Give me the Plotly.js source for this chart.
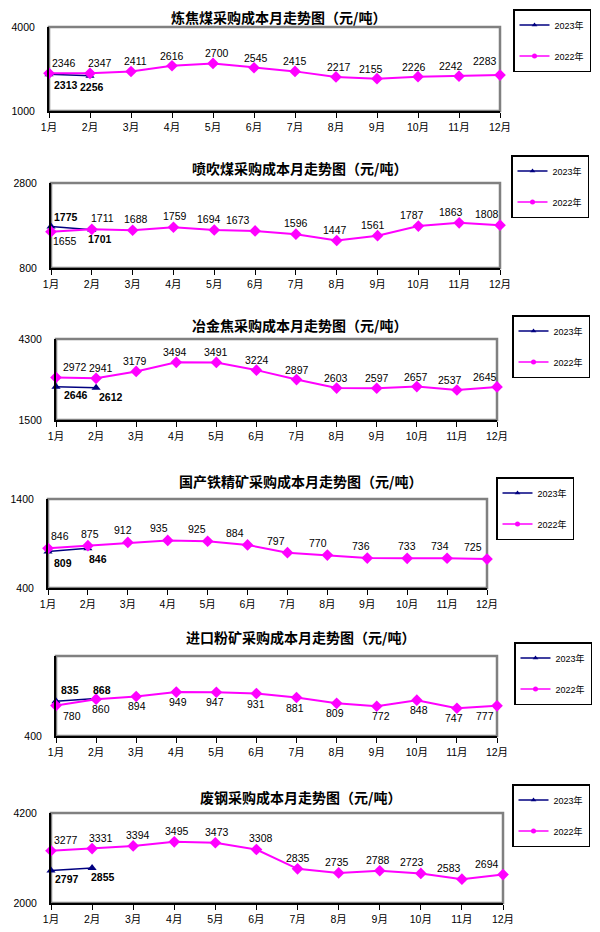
<!DOCTYPE html>
<html>
<head>
<meta charset="utf-8">
<script src="https://cdn.plot.ly/plotly-3.0.1.min.js"></script>
<style>html,body{margin:0;padding:0;background:#fff;}#chart{width:600px;height:932px;}</style>
</head>
<body>
<div id="chart"></div>
<script>
// ---- data ----
const months = ['1月','2月','3月','4月','5月','6月','7月','8月','9月','10月','11月','12月'];
const seriesNames = ['2023年','2022年'];

const titleCoking = '炼焦煤采购成本月走势图（元/吨）';
const coking2022 = [2346,2347,2411,2616,2700,2545,2415,2217,2155,2226,2242,2283];
const coking2023 = [2313,2256];
const cokingTicks = [1000,4000];

const titlePci = '喷吹煤采购成本月走势图（元/吨）';
const pci2022 = [1655,1711,1688,1759,1694,1673,1596,1447,1561,1787,1863,1808];
const pci2023 = [1775,1701];
const pciTicks = [800,2800];

const titleCoke = '冶金焦采购成本月走势图（元/吨）';
const coke2022 = [2972,2941,3179,3494,3491,3224,2897,2603,2597,2657,2537,2645];
const coke2023 = [2646,2612];
const cokeTicks = [1500,4300];

const titleDomOre = '国产铁精矿采购成本月走势图（元/吨）';
const domOre2022 = [846,875,912,935,925,884,797,770,736,733,734,725];
const domOre2023 = [809,846];
const domOreTicks = [400,1400];

const titleImpOre = '进口粉矿采购成本月走势图（元/吨）';
const impOre2022 = [780,860,894,949,947,931,881,809,772,848,747,777];
const impOre2023 = [835,868];
const impOreTicks = [400,1400];
const impOreTickLabels = ['400',''];

const titleScrap = '废钢采购成本月走势图（元/吨）';
const scrap2022 = [3277,3331,3394,3495,3473,3308,2835,2735,2788,2723,2583,2694];
const scrap2023 = [2797,2855];
const scrapTicks = [2000,4200];

// ---- styles / layout ----
const W = 600, H = 932;
const FONT = 'Liberation Sans, Noto Sans CJK SC, sans-serif';
const LBL = 10.5;
const C22 = '#FF00FF', C23 = '#000080';
function rep(v,n){return Array(n).fill(v);}

// label offsets (pixels) relative to each point: dx22/dy22 for 2022, dx23/dy23 for 2023
const panels = [
  {title:titleCoking, d22:coking2022, d23:coking2023, ticks:cokingTicks, tl:null,
   box:[49,500,27,111], tpos:[278,17], leg:[513,9],
   dx22:[15,10,4,0,4,2,0,3,-6,-4,-8,-15], dy22:rep(10,11).concat([14]),
   dx23:[17,2], dy23:[-11,-11]},
  {title:titlePci, d22:pci2022, d23:pci2023, ticks:pciTicks, tl:null,
   box:[51,500,183,268], tpos:[299,168], leg:[511,155],
   dx22:[14,11,3,2,-5,-17,0,-2,-5,-6,-8,-13], dy22:[-9].concat(rep(11,11)),
   dx23:[15,8], dy23:[10,-9]},
  {title:titleCoke, d22:coke2022, d23:coke2023, ticks:cokeTicks, tl:null,
   box:[56,497,339,420], tpos:[299,325], leg:[512,315],
   dx22:[19,5,-1,-1,0,1,0,-1,0,-1,-7,-12], dy22:rep(10,12),
   dx23:[20,15], dy23:[-8,-9]},
  {title:titleDomOre, d22:domOre2022, d23:domOre2023, ticks:domOreTicks, tl:null,
   box:[48,487,499,588], tpos:[300,481], leg:[496,477],
   dx22:[12,2,-5,-9,-11,-13,-11,-9,-6,0,-7,-14], dy22:rep(12,12),
   dx23:[15,10], dy23:[-11,-11]},
  {title:titleImpOre, d22:impOre2022, d23:impOre2023, ticks:impOreTicks, tl:impOreTickLabels,
   box:[56,497,656,736], tpos:[300,637], leg:[514,642],
   dx22:[16,5,1,2,-1,0,-2,-2,4,2,-3,-12], dy22:rep(-10,12),
   dx23:[14,6], dy23:[11,9]},
  {title:titleScrap, d22:scrap2022, d23:scrap2023, ticks:scrapTicks, tl:null,
   box:[51,503,813,903], tpos:[300,797], leg:[512,784],
   dx22:[15,9,5,3,2,5,0,-2,-2,-9,-13,-16], dy22:rep(11,12),
   dx23:[16,11], dy23:[-9,-9]}
];

const traces = [];
const layout = {
  width: W, height: H,
  margin: {l:0, r:0, t:0, b:0},
  paper_bgcolor: '#fff', plot_bgcolor: '#fff',
  font: {family: FONT, size: 10, color: '#000'},
  showlegend: true,
  annotations: [], shapes: []
};

panels.forEach((p, i) => {
  const n = i + 1;
  const sx = n === 1 ? '' : String(n);
  const xa = 'x' + sx, ya = 'y' + sx;
  const legName = 'legend' + sx;
  const x23 = months.slice(0, p.d23.length);
  // data traces
  traces.push({
    type:'scatter', mode:'lines+markers', name: seriesNames[0], showlegend: false,
    x: x23, y: p.d23,
    line: {color: C23, width: 1.5},
    marker: {symbol: 'triangle-up', size: 8, color: C23},
    xaxis: xa, yaxis: ya, cliponaxis: false, hoverinfo: 'skip'
  });
  traces.push({
    type:'scatter', mode:'lines+markers', name: seriesNames[1], showlegend: false,
    x: months, y: p.d22,
    line: {color: C22, width: 2},
    marker: {symbol: 'diamond', size: 9, color: C22},
    xaxis: xa, yaxis: ya, cliponaxis: false, hoverinfo: 'skip'
  });
  // legend-only entries (no data, smaller symbols like the reference key)
  traces.push({
    type:'scatter', mode:'lines+markers', name: seriesNames[0],
    x: [null], y: [null], line: {color: C23, width: 1.5},
    marker: {symbol: 'triangle-up', size: 5, color: C23},
    xaxis: xa, yaxis: ya, legend: legName, legendgroup: 'a' + n, hoverinfo: 'skip'
  });
  traces.push({
    type:'scatter', mode:'lines+markers', name: seriesNames[1],
    x: [null], y: [null], line: {color: C22, width: 1.5},
    marker: {symbol: 'circle', size: 5, color: C22},
    xaxis: xa, yaxis: ya, legend: legName, legendgroup: 'b' + n, hoverinfo: 'skip'
  });
  // data labels
  p.d22.forEach((v, k) => layout.annotations.push({
    xref: xa, yref: ya, x: months[k], y: v, text: String(v), showarrow: false,
    xanchor: 'center', yanchor: 'middle', xshift: p.dx22[k], yshift: p.dy22[k],
    font: {family: FONT, size: LBL, color: '#000'}
  }));
  p.d23.forEach((v, k) => layout.annotations.push({
    xref: xa, yref: ya, x: x23[k], y: v, text: '<b>' + v + '</b>', showarrow: false,
    xanchor: 'center', yanchor: 'middle', xshift: p.dx23[k], yshift: p.dy23[k],
    font: {family: FONT, size: LBL, color: '#000'}
  }));
  const [x0, x1, y0, y1] = p.box;
  layout['xaxis' + sx] = {
    domain: [x0 / W, x1 / W], anchor: ya,
    type: 'category', categoryorder: 'array', categoryarray: months,
    range: [0, 11], fixedrange: true,
    showline: true, linecolor: '#000', linewidth: 2,
    ticks: 'outside', ticklen: 5, tickwidth: 1, tickcolor: '#000',
    showgrid: false, zeroline: false,
    tickfont: {family: FONT, size: 10.5, color: '#000'}
  };
  layout['yaxis' + sx] = {
    domain: [1 - y1 / H, 1 - y0 / H], anchor: xa,
    range: [p.ticks[0], p.ticks[1]], fixedrange: true,
    tickvals: p.ticks, ticktext: p.tl || p.ticks.map(String),
    showline: true, linecolor: '#000', linewidth: 2,
    ticks: 'outside', ticklen: 10, tickcolor: 'rgba(0,0,0,0)',
    showgrid: false, zeroline: false,
    tickfont: {family: FONT, size: 10.5, color: '#000'}
  };
  layout.shapes.push({
    type: 'rect', xref: xa + ' domain', yref: ya + ' domain',
    x0: 0, x1: 1, y0: 0, y1: 1, layer: 'below',
    line: {color: '#808080', width: 2.5}
  });
  layout.annotations.push({
    xref: 'paper', yref: 'paper', x: p.tpos[0] / W, y: 1 - p.tpos[1] / H,
    xanchor: 'center', yanchor: 'middle', showarrow: false,
    text: '<b>' + p.title + '</b>',
    font: {family: 'Noto Sans CJK SC, sans-serif', size: 14, color: '#000'}
  });
  layout[legName] = {
    x: p.leg[0] / W, y: 1 - p.leg[1] / H, xanchor: 'left', yanchor: 'top',
    xref: 'paper', yref: 'paper',
    bgcolor: '#fff', bordercolor: '#000', borderwidth: 1.5,
    font: {family: FONT, size: 9, color: '#000'},
    traceorder: 'grouped', tracegroupgap: 12, itemwidth: 30
  };
});

Plotly.newPlot('chart', traces, layout, {displayModeBar: false, staticPlot: true});
</script>
</body>
</html>
